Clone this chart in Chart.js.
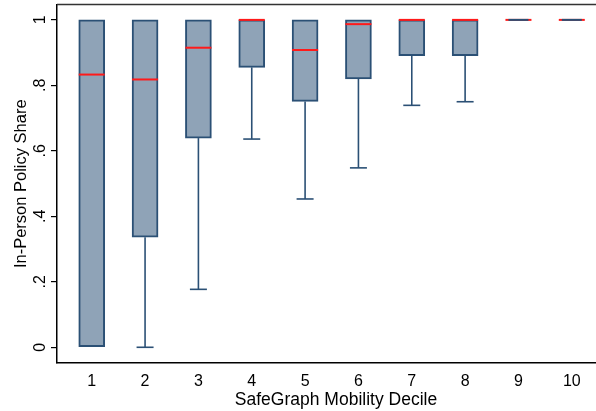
<!DOCTYPE html>
<html>
<head>
<meta charset="utf-8">
<script src="https://cdn.jsdelivr.net/npm/chart.js@4.4.1/dist/chart.umd.min.js"></script>
<style>
  html, body { margin: 0; padding: 0; background: #ffffff; overflow: hidden; }
  #wrap { width: 596px; height: 411px; overflow: hidden; }
</style>
</head>
<body>
<div id="wrap"><canvas id="c" width="615" height="411"></canvas></div>
<script>
// ---- Data ----
const categories   = [1, 2, 3, 4, 5, 6, 7, 8, 9, 10];
const lowerWhisker = [0.000, 0.000, 0.177, 0.636, 0.453, 0.548, 0.739, 0.750, 1.000, 1.000];
const q1Values     = [0.000, 0.336, 0.639, 0.855, 0.751, 0.820, 0.891, 0.891, 1.000, 1.000];
const medianValues = [0.833, 0.818, 0.915, 1.000, 0.908, 0.987, 1.000, 1.000, 1.000, 1.000];
const q3Values     = [1.000, 1.000, 1.000, 1.000, 1.000, 1.000, 1.000, 1.000, 1.000, 1.000];
const upperWhisker = [1.000, 1.000, 1.000, 1.000, 1.000, 1.000, 1.000, 1.000, 1.000, 1.000];
const yTickValues  = [0, 0.2, 0.4, 0.6, 0.8, 1];
const yTickLabels  = ['0', '.2', '.4', '.6', '.8', '1'];
const xTitle = 'SafeGraph Mobility Decile';
const yTitle = 'In-Person Policy Share';

// ---- Styles ----
const NAVY = '#2b5075';
const FILL = '#8fa3b7';
const RED = '#ff1a1a';
const FONT = 'Liberation Sans, Arial, sans-serif';
const BOX_PX = 26;
const CAP_PX = 17;

const boxData = categories.map((c, i) => ({ x: c, y: [q1Values[i], q3Values[i]] }));

const boxPlugin = {
  id: 'boxExtras',
  afterDatasetsDraw(chart) {
    const ctx = chart.ctx;
    const xs = chart.scales.x, ys = chart.scales.y;
    ctx.save();
    categories.forEach((c, i) => {
      const px = xs.getPixelForValue(c);
      const pq1 = ys.getPixelForValue(q1Values[i]);
      const pq3 = ys.getPixelForValue(q3Values[i]);
      const plw = ys.getPixelForValue(lowerWhisker[i]);
      const puw = ys.getPixelForValue(upperWhisker[i]);
      const pmed = ys.getPixelForValue(medianValues[i]);
      ctx.strokeStyle = NAVY;
      ctx.lineWidth = 1.6;
      if (Math.abs(plw - pq1) > 0.5) {
        ctx.beginPath(); ctx.moveTo(px, pq1); ctx.lineTo(px, plw); ctx.stroke();
        ctx.beginPath(); ctx.moveTo(px - CAP_PX / 2, plw); ctx.lineTo(px + CAP_PX / 2, plw); ctx.stroke();
      }
      if (Math.abs(puw - pq3) > 0.5) {
        ctx.beginPath(); ctx.moveTo(px, pq3); ctx.lineTo(px, puw); ctx.stroke();
        ctx.beginPath(); ctx.moveTo(px - CAP_PX / 2, puw); ctx.lineTo(px + CAP_PX / 2, puw); ctx.stroke();
      }
      ctx.strokeStyle = RED;
      ctx.lineWidth = 2;
      ctx.beginPath(); ctx.moveTo(px - BOX_PX / 2, pmed); ctx.lineTo(px + BOX_PX / 2, pmed); ctx.stroke();
      if (Math.abs(pq1 - pq3) < 0.5) {
        ctx.strokeStyle = NAVY;
        ctx.lineWidth = 2;
        ctx.beginPath(); ctx.moveTo(px - BOX_PX / 2 + 3, pq3); ctx.lineTo(px + BOX_PX / 2 - 3, pq3); ctx.stroke();
      }
    });
    const a = chart.chartArea;
    ctx.strokeStyle = '#333333';
    ctx.lineWidth = 1.5;
    ctx.beginPath(); ctx.moveTo(a.left, a.top); ctx.lineTo(a.right, a.top); ctx.stroke();
    ctx.restore();
  }
};

new Chart(document.getElementById('c'), {
  type: 'bar',
  data: {
    datasets: [{
      data: boxData,
      backgroundColor: FILL,
      borderColor: NAVY,
      borderWidth: 2,
      borderSkipped: false,
      barThickness: BOX_PX
    }]
  },
  options: {
    responsive: false,
    animation: false,
    devicePixelRatio: 1,
    layout: { padding: { top: 4.5, right: 0, bottom: 0, left: 0 } },
    plugins: { legend: { display: false }, tooltip: { enabled: false } },
    scales: {
      x: {
        type: 'linear',
        offset: false,
        min: 0.349,
        max: 10.81,
        afterBuildTicks: (s) => { s.ticks = categories.map(v => ({ value: v })); },
        afterFit: (s) => { s.height = 48; s.paddingLeft = 0; s.paddingRight = 0; },
        grid: { display: false, drawTicks: false, tickLength: 0, offset: false },
        border: { display: true, color: '#000000', width: 1.5 },
        ticks: {
          color: '#000000',
          font: { family: FONT, size: 16 },
          padding: 9,
          maxRotation: 0,
          minRotation: 0,
          autoSkip: false,
          callback: (v) => String(v)
        },
        title: {
          display: true,
          text: xTitle,
          color: '#000000',
          font: { family: FONT, size: 17.5 },
          padding: { top: 0, bottom: 0 }
        }
      },
      y: {
        type: 'linear',
        min: -0.048,
        max: 1.047,
        afterBuildTicks: (s) => { s.ticks = yTickValues.map(v => ({ value: v })); },
        afterFit: (s) => { s.width = 57; s.paddingTop = 0; s.paddingBottom = 0; },
        grid: { display: true, drawOnChartArea: false, drawTicks: true, tickLength: 6, color: '#000000', lineWidth: 1.2 },
        border: { display: true, color: '#000000', width: 1.5 },
        ticks: {
          color: '#000000',
          font: { family: FONT, size: 16 },
          padding: 4,
          minRotation: 90,
          maxRotation: 90,
          crossAlign: 'center',
          autoSkip: false,
          callback: (v) => { const i = yTickValues.indexOf(v); return i >= 0 ? yTickLabels[i] : ''; }
        },
        title: {
          display: true,
          text: yTitle,
          color: '#000000',
          font: { family: FONT, size: 16.5 },
          padding: { top: 12, bottom: 0 }
        }
      }
    }
  },
  plugins: [boxPlugin]
});
</script>
</body>
</html>
